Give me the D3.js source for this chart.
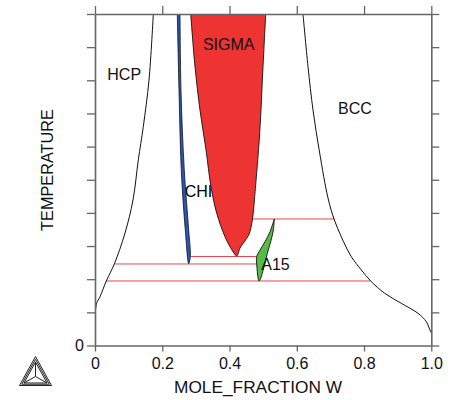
<!DOCTYPE html>
<html>
<head>
<meta charset="utf-8">
<script src="https://cdn.jsdelivr.net/npm/d3@7"></script>
<style>
  body { margin: 0; background: #fff; }
  svg { font-family: "Liberation Sans", Arial, sans-serif; }
</style>
</head>
<body>
<div id="chart"></div>
<script>
// phase boundaries, [mole fraction W, temperature (relative units)]
const hcpBoundary = [[0.1734,10],[0.1606,8.01],[0.1436,6.60],[0.1288,5.60],[0.1130,4.39],[0.0892,3.39],[0.0574,2.459],[0.0336,1.946],[0.0149,1.47],[0.0051,1.28],[0,0.92]];
const bccBoundary = [[0.6185,10],[0.6334,8.41],[0.6483,7.10],[0.6682,5.80],[0.6928,4.45],[0.7107,3.816],[0.7324,3.28],[0.7621,2.68],[0.7919,2.28],[0.8198,1.946],[0.8614,1.575],[0.9108,1.273],[0.9605,0.971],[0.9851,0.718],[0.998,0.416],[1.0,0.38]];
const sigmaLeft = [[0.2846,10],[0.2974,8.41],[0.3122,7.10],[0.3301,5.90],[0.3449,4.79],[0.3619,3.99],[0.3866,3.28],[0.4074,2.88],[0.4213,2.70]];
const sigmaRight = [[0.4213,2.70],[0.4252,2.76],[0.4312,2.94],[0.4511,3.23],[0.4595,3.39],[0.4683,3.816],[0.4728,4.24],[0.4749,4.49],[0.4897,6.40],[0.4996,8.41],[0.5076,10]];
const chiLeft = [[0.2447,10],[0.2498,7.71],[0.2566,5.29],[0.2685,3.48],[0.2786,2.47]];
const chiRight = [[0.2786,2.47],[0.2834,2.685],[0.2786,3.48],[0.2655,5.29],[0.2557,7.71],[0.2528,10]];
const a15Left = [[0.5332,3.816],[0.5204,3.433],[0.5055,3.131],[0.4906,2.881],[0.4808,2.685],[0.4808,2.459],[0.4877,1.946]];
const a15Right = [[0.4877,1.946],[0.4918,2.0],[0.4987,2.226],[0.5055,2.48],[0.5123,2.78],[0.5224,3.13],[0.5302,3.48],[0.5332,3.816]];
// three-phase tie lines: temperature, from x, to x
const tieLines = [[3.816,0.4683,0.7107],[2.685,0.2834,0.4808],[2.459,0.0574,0.4808],[1.946,0.0336,0.8198]];
// phase labels: text, x, temperature
const phaseLabels = [["HCP",0.0366,8.01],["SIGMA",0.321,8.91],["BCC",0.7226,6.97],["A15",0.4945,2.29]];
const chiLabel = ["CHI",0.2667,4.49];
const xTicks = [0,0.2,0.4,0.6,0.8,1.0];
const xTickLabels = ["0","0.2","0.4","0.6","0.8","1.0"];
const yTicks = [0,1,2,3,4,5,6,7,8,9,10];

const width = 457, height = 400;
const svg = d3.select('#chart').append('svg')
    .attr('width', width).attr('height', height);

const x = d3.scaleLinear([0,1], [95, 431.3]);
const y = d3.scaleLinear([0,10], [345.5, 14]);

svg.append('defs').append('clipPath').attr('id','plot')
  .append('rect').attr('x',95).attr('y',14).attr('width',336.3).attr('height',331.5);

const plot = svg.append('g').attr('clip-path','url(#plot)');
const line = d3.line(d=>x(d[0]), d=>y(d[1])).curve(d3.curveCatmullRom);

// tie lines
plot.selectAll('line.tie').data(tieLines).join('line')
    .attr('x1', d=>x(d[1])).attr('x2', d=>x(d[2]))
    .attr('y1', d=>y(d[0])).attr('y2', d=>y(d[0]))
    .attr('stroke','#e8474c').attr('stroke-width',1);

// CHI label sits under the sigma fill
plot.append('text').attr('x', x(chiLabel[1])).attr('y', y(chiLabel[2]))
    .attr('font-size',16).text(chiLabel[0]);

// regions
plot.append('path').attr('d', line(sigmaLeft.concat(sigmaRight.slice(1))) + 'Z')
    .attr('fill','#ee3333').attr('stroke','#111').attr('stroke-width',0.9);
plot.append('path').attr('d', line(chiLeft.concat(chiRight.slice(1))) + 'Z')
    .attr('fill','#2a56b8').attr('stroke','#111').attr('stroke-width',0.8);
plot.append('path').attr('d', line(a15Left.concat(a15Right.slice(1))) + 'Z')
    .attr('fill','#55bb44').attr('stroke','#111').attr('stroke-width',0.9);

// single phase boundaries
[hcpBoundary, bccBoundary].forEach(b => {
  plot.append('path').attr('d', line(b))
      .attr('fill','none').attr('stroke','#111').attr('stroke-width',1);
});

plot.selectAll('text.phase').data(phaseLabels).join('text')
    .classed('phase', true)
    .attr('x', d=>x(d[1])).attr('y', d=>y(d[2]))
    .attr('font-size',16).attr('fill','#111').text(d=>d[0]);

// axes (box with outward ticks)
const axColor = '#666';
const axB = svg.append('g').attr('transform',`translate(0,${y(0)})`)
    .call(d3.axisBottom(x).tickValues(xTicks).tickFormat((d,i)=>xTickLabels[i]).tickSize(6).tickSizeOuter(0).tickPadding(6));
const axT = svg.append('g').attr('transform',`translate(0,${y(10)})`)
    .call(d3.axisTop(x).tickValues(xTicks).tickFormat('').tickSize(8).tickSizeOuter(0));
const axL = svg.append('g').attr('transform',`translate(${x(0)},0)`)
    .call(d3.axisLeft(y).tickValues(yTicks).tickFormat(d=>d===0?'0':'').tickSize(8).tickSizeOuter(0).tickPadding(3));
const axR = svg.append('g').attr('transform',`translate(${x(1)},0)`)
    .call(d3.axisRight(y).tickValues(yTicks).tickFormat('').tickSize(8).tickSizeOuter(0));
[axB, axT, axL, axR].forEach(a => {
  a.select('.domain').attr('stroke', axColor).attr('stroke-width',1.6);
  a.selectAll('.tick line').attr('stroke', axColor).attr('stroke-width',1.3);
  a.selectAll('.tick text').attr('font-size',16).attr('fill','#111')
      .attr('font-family','"Liberation Sans", Arial, sans-serif');
});

svg.append('text').attr('x',258).attr('y',393.3).attr('text-anchor','middle')
    .attr('font-size',17.3).attr('fill','#111').text('MOLE_FRACTION W');
svg.append('text').attr('transform','translate(53.3,170) rotate(-90)')
    .attr('text-anchor','middle').attr('font-size',16.3).attr('fill','#111').text('TEMPERATURE');

// logo
const logo = svg.append('g').attr('fill','none').attr('stroke','#222').attr('stroke-width',1);
const cx = 35.5, cy = 376.5;
const verts = [[35.5,356.5],[19.5,385.5],[51.5,385.5]];
[1, 0.86, 0.72].forEach(s => {
  logo.append('path').attr('d', 'M' + verts.map(v => [cx+(v[0]-cx)*s, cy+(v[1]-cy)*s]).join('L') + 'Z');
});
verts.forEach(v => {
  logo.append('line').attr('x1',cx).attr('y1',cy)
      .attr('x2',cx+(v[0]-cx)*0.72).attr('y2',cy+(v[1]-cy)*0.72);
});
</script>
</body>
</html>
